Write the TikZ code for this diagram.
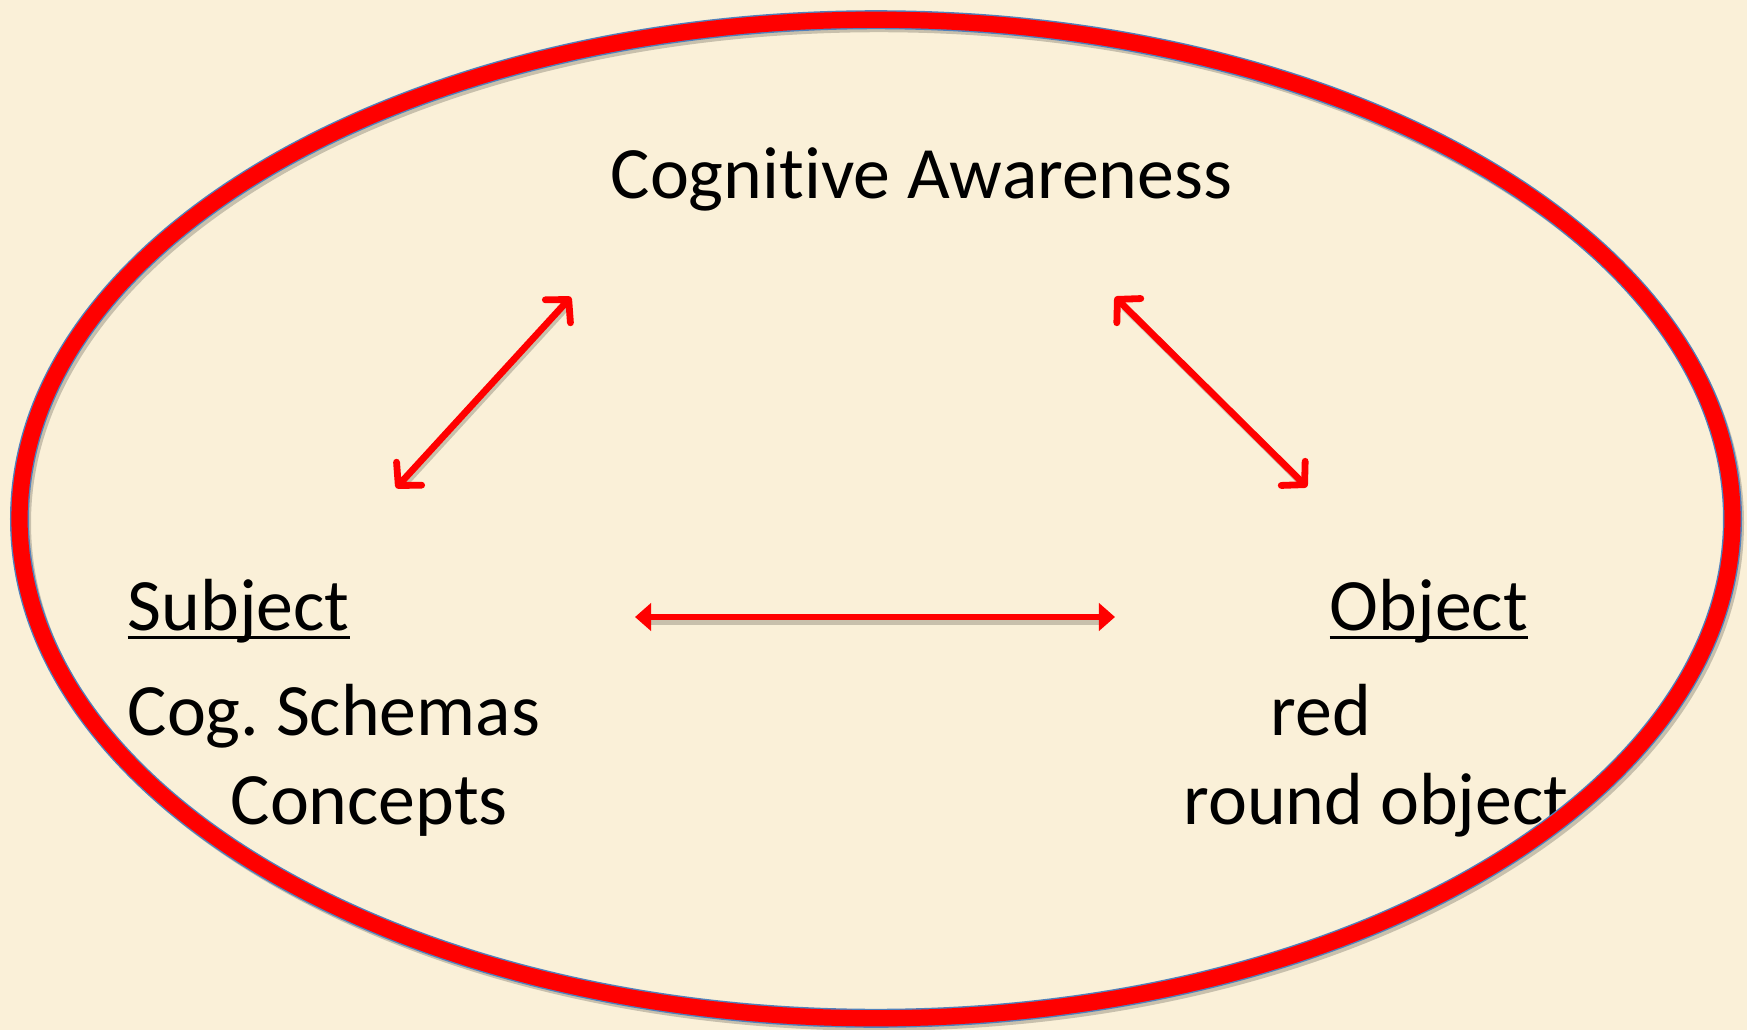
\documentclass[tikz,border=0pt]{standalone}
\usepackage{fontspec}
\setmainfont{Carlito}[RawFeature=-liga]
\usetikzlibrary{arrows.meta}
\definecolor{paper}{RGB}{250,240,216}
\definecolor{ringred}{RGB}{255,0,0}
\definecolor{ringedge}{RGB}{79,129,189}
% underline drawn slightly below the baseline, crossing descenders
\newcommand\ulword[1]{\setbox0\hbox{#1}\rlap{\rule[-0.12em]{\wd0}{0.045em}}\box0}
\frenchspacing
\begin{document}
\begin{tikzpicture}[x=0.01cm,y=-0.01cm,
  txt/.style={inner sep=0pt, anchor=base west, font=\fontsize{21}{25}\selectfont},
  barb/.tip={Straight Barb[length=0.16cm,width=0.34cm,round]},
  vlink/.style={draw=ringred, line width=0.068cm, line cap=round, {barb}-{barb}},
  hlink/.style={draw=ringred, line width=0.058cm, {Triangle[length=0.16cm,width=0.27cm]}-{Triangle[length=0.16cm,width=0.27cm]}},
  shade/.style={draw=black, opacity=0.2, line width=0.07cm, shorten <=0.1cm, shorten >=0.1cm}]
\fill[paper] (0,0) rectangle (1747,1030);
\useasboundingbox (0,0) rectangle (1747,1030);

% labels
\node[txt] (aware) at (610,198) {Cognitive Awareness};
\node[txt] (subj) at (127,630) {\ulword{Subject}};
\node[txt] (schemas) at (127,735) {Cog. Schemas};
\node[txt] (concepts) at (230,824) {Concepts};
\node[txt] (obj) at (1329,630) {\ulword{Object}};
\node[txt] (red) at (1270,735) {red};
\node[txt] (round) at (1183,824) {round object};

% arrow end points
\coordinate (sl) at (396,488);
\coordinate (at) at (571,297);
\coordinate (bt) at (1115,297);
\coordinate (or) at (1307,487);
\coordinate (hl) at (635,617);
\coordinate (hr) at (1115,617);

% soft shadows under the arrows
\draw[shade] ([shift={(2,3)}]sl) -- ([shift={(2,3)}]at);
\draw[shade] ([shift={(2,3)}]bt) -- ([shift={(2,3)}]or);
\draw[shade] ([shift={(1,4)}]hl) -- ([shift={(1,4)}]hr);

% arrows
\draw[vlink] (sl) -- (at);
\draw[vlink] (bt) -- (or);
\draw[hlink] (hl) -- (hr);

% outer ring
\draw[black, opacity=0.2, line width=0.17cm] (879,523) ellipse [x radius=8.56cm, y radius=4.99cm];
\draw[ringedge, line width=0.19cm] (876,519) ellipse [x radius=8.56cm, y radius=4.99cm];
\draw[ringred, line width=0.162cm] (876,519) ellipse [x radius=8.56cm, y radius=4.99cm];
\end{tikzpicture}
\end{document}
